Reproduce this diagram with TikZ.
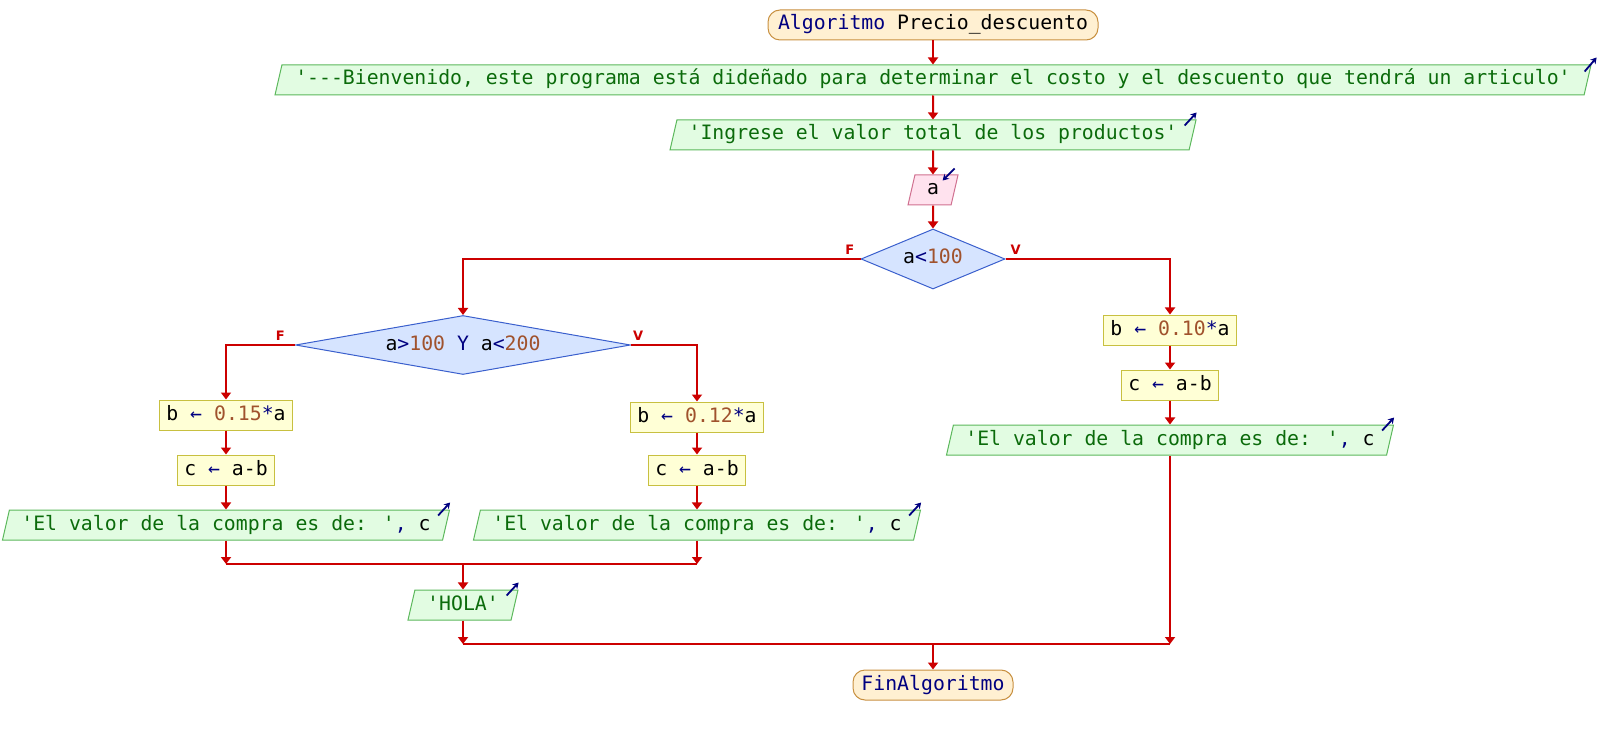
\documentclass[tikz,border=0pt]{standalone}
\usepackage{fontspec}
\newfontfamily\psefont{DejaVu Sans Mono}
\newfontfamily\etiqfont{DejaVu Sans}
\usetikzlibrary{shapes.geometric,arrows.meta}

\definecolor{azulpse}{HTML}{000080}
\definecolor{numpse}{HTML}{A0522D}
\definecolor{cadpse}{HTML}{0B6B0B}
\definecolor{flujo}{HTML}{CC0000}
\definecolor{fondoini}{HTML}{FFF0D2}
\definecolor{bordeini}{HTML}{C89040}
\definecolor{fondosal}{HTML}{E2FCE2}
\definecolor{bordesal}{HTML}{5CB85C}
\definecolor{fondoent}{HTML}{FFE2EE}
\definecolor{bordeent}{HTML}{D07090}
\definecolor{fondodec}{HTML}{D6E4FF}
\definecolor{bordedec}{HTML}{3A5FCD}
\definecolor{fondopro}{HTML}{FFFFD6}
\definecolor{bordepro}{HTML}{C8C040}

\newcommand{\kw}[1]{\textcolor{azulpse}{#1}}
\newcommand{\num}[1]{\textcolor{numpse}{#1}}
\newcommand{\var}[1]{\textcolor{black}{#1}}

\begin{document}
\begin{tikzpicture}[x=1pt, y=-1pt,
    base/.style={font=\psefont\fontsize{19.8}{24}\selectfont, text height=14.5pt, text depth=4.5pt, inner ysep=0pt, minimum height=30pt, line width=1pt},
    inicio/.style={base, rectangle, rounded corners=12pt, draw=bordeini, fill=fondoini, text=azulpse},
    salida/.style={base, trapezium, trapezium left angle=70, trapezium right angle=110, trapezium stretches body, draw=bordesal, fill=fondosal, text=cadpse},
    entrada/.style={salida, draw=bordeent, fill=fondoent, text=black},
    decision/.style={base, diamond, inner sep=0pt, draw=bordedec, fill=fondodec, text=black},
    proceso/.style={base, rectangle, inner xsep=7pt, draw=bordepro, fill=fondopro, text=black},
    flecha/.style={draw=flujo, line width=2pt, -{Triangle[width=10pt,length=7pt]}},
    linea/.style={draw=flujo, line width=2pt},
    etiq/.style={text=flujo, font=\etiqfont\bfseries\fontsize{13}{15}\selectfont, inner sep=1pt},
    icono/.style={draw=azulpse, line width=1.8pt, -{Stealth[length=6pt,width=7pt]}}]

    \useasboundingbox (0,0) rectangle (1598,735);

    \node[inicio, minimum width=330pt] (ini) at (933,25) {Algoritmo \var{Precio\_descuento}};
    \node[salida, minimum width=1316pt] (o1) at (933,80) {'-{}-{}-Bienvenido, este programa está dideñado para determinar el costo y el descuento que tendrá un articulo'};
    \node[salida, minimum width=526pt] (o2) at (933,135) {'Ingrese el valor total de los productos'};
    \node[entrada, minimum width=50pt] (in1) at (933,190) {a};
    \node[decision, aspect=2.4, minimum width=144pt, minimum height=60pt] (d1) at (933,259) {a\kw{<}\num{100}};
    \node[decision, aspect=5.7, minimum width=335pt, minimum height=59pt] (d2) at (463,345) {a\kw{>}\num{100} \kw{Y} a\kw{<}\num{200}};

    \node[proceso] (pl1) at (226,415) {b \kw{←} \num{0.15}\kw{*}a};
    \node[proceso] (pl2) at (226,470) {c \kw{←} a-b};
    \node[salida, minimum width=447pt] (ol) at (226,525) {'El valor de la compra es de: '\kw{,} \var{c}};

    \node[proceso] (pm1) at (697,417) {b \kw{←} \num{0.12}\kw{*}a};
    \node[proceso] (pm2) at (697,470) {c \kw{←} a-b};
    \node[salida, minimum width=447pt] (om) at (697,525) {'El valor de la compra es de: '\kw{,} \var{c}};

    \node[proceso] (pr1) at (1170,330) {b \kw{←} \num{0.10}\kw{*}a};
    \node[proceso] (pr2) at (1170,385) {c \kw{←} a-b};
    \node[salida, minimum width=447pt] (or) at (1170,440) {'El valor de la compra es de: '\kw{,} \var{c}};

    \node[salida, minimum width=110pt] (hola) at (463,605) {'HOLA'};
    \node[inicio, minimum width=160pt] (fin) at (933,685) {FinAlgoritmo};

    % etiquetas de las condiciones
    \node[etiq, anchor=south east] (lf1) at ([shift={(-5,-3)}]d1.west) {F};
    \node[etiq, anchor=south west] (lv1) at ([shift={(4,-3)}]d1.east) {V};
    \node[etiq, anchor=south east] (lf2) at ([shift={(-9,-3)}]d2.west) {F};
    \node[etiq, anchor=south west] (lv2) at ([shift={(1,-3)}]d2.east) {V};

    % iconos de lectura / escritura
    \foreach \n in {o2,ol,om,or,hola}
        \draw[icono] ([shift={(-12,6)}]\n.top right corner) -- ([shift={(0,-7)}]\n.top right corner);
    \draw[icono] ([shift={(-7,7)}]o1.top right corner) -- ([shift={(5,-7)}]o1.top right corner);
    \draw[icono] ([shift={(-4,-6)}]in1.top right corner) -- ([shift={(-16,6)}]in1.top right corner);

    \coordinate (m1) at (463,564);
    \coordinate (m2) at (933,644);

    \draw[flecha] (ini) -- (o1);
    \draw[flecha] (o1) -- (o2);
    \draw[flecha] (o2) -- (in1);
    \draw[flecha] (in1) -- (d1);
    \draw[flecha] (d1.west) -| (d2.north);
    \draw[flecha] (d1.east) -| (pr1.north);
    \draw[flecha] (pr1) -- (pr2);
    \draw[flecha] (pr2) -- (or);
    \draw[flecha] (d2.west) -| (pl1.north);
    \draw[flecha] (d2.east) -| (pm1.north);
    \draw[flecha] (pl1) -- (pl2);
    \draw[flecha] (pl2) -- (ol);
    \draw[flecha] (pm1) -- (pm2);
    \draw[flecha] (pm2) -- (om);

    \draw[flecha] (ol.south) -- (ol.south |- m1);
    \draw[flecha] (om.south) -- (om.south |- m1);
    \draw[linea] (ol.south |- m1) -- (om.south |- m1);
    \draw[flecha] (m1) -- (hola);
    \draw[flecha] (hola.south) -- (hola.south |- m2);
    \draw[flecha] (or.south) -- (or.south |- m2);
    \draw[linea] (hola.south |- m2) -- (or.south |- m2);
    \draw[flecha] (m2) -- (fin);
\end{tikzpicture}
\end{document}
